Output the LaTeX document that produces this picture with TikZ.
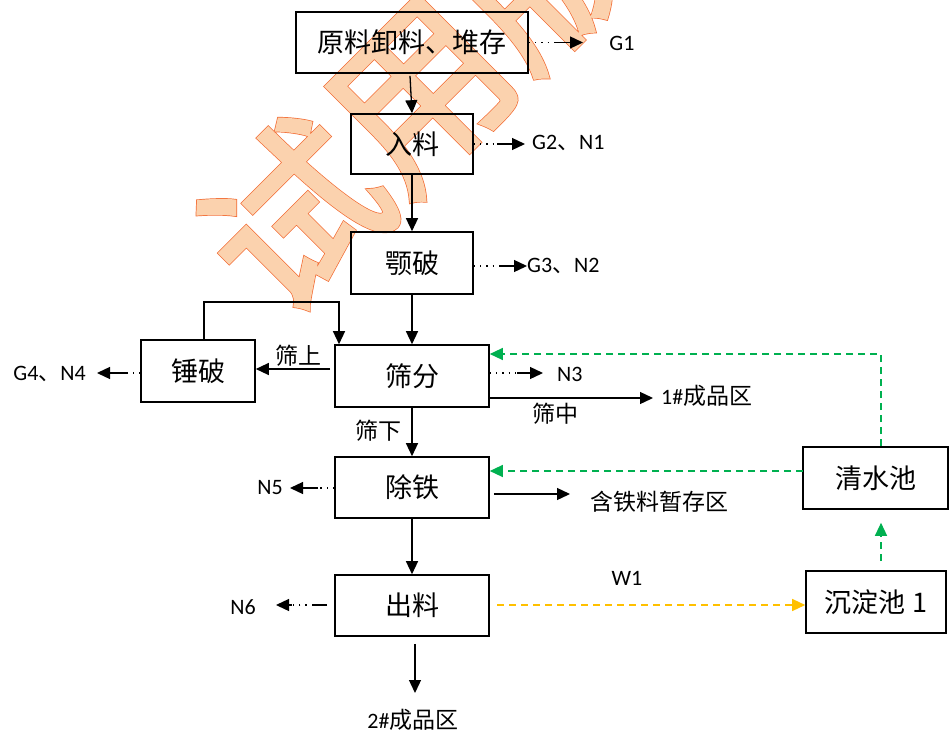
\documentclass[tikz,border=0pt]{standalone}
\usepackage{fontspec}
\setmainfont{Carlito}
\newfontfamily\cjk{Noto Sans CJK SC}
\usetikzlibrary{arrows.meta}
\definecolor{gr}{HTML}{00B050}
\definecolor{yl}{HTML}{FFC000}
\definecolor{peach}{HTML}{FBD2AE}
\newcommand{\wmouter}[1]{\special{pdf:literal direct 2 Tr 5 w 0.95 0.42 0.2 RG}#1\special{pdf:literal direct 0 Tr 0.4 w 0 0 0 RG}}
\newcommand{\wminner}[1]{\special{pdf:literal direct 2 Tr 3.6 w 0.984 0.824 0.682 RG}#1\special{pdf:literal direct 0 Tr 0.4 w 0 0 0 RG}}
\begin{document}
\begin{tikzpicture}[x=1pt,y=-1pt,
 box/.style={draw,line width=1.6pt,inner sep=0pt,font=\cjk\fontsize{27}{27}\selectfont},
 arr/.style={line width=1.3pt,-{Triangle[length=13pt,width=12pt]}},
 dotl/.style={line width=1.3pt,dash pattern=on 1.3pt off 5pt},
 lbl/.style={font=\fontsize{22}{22}\selectfont,inner sep=0pt},
 clbl/.style={font=\cjk\fontsize{23}{23}\selectfont,inner sep=0pt},
 gdash/.style={gr,line width=1.3pt,dash pattern=on 7pt off 5pt,-{Triangle[length=13pt,width=12pt]}},
 ydash/.style={yl,line width=1.3pt,dash pattern=on 7pt off 5pt,-{Triangle[length=13pt,width=12pt]}},
 wm/.style={rotate=45,font=\cjk\fontsize{175}{175}\selectfont,text=peach,inner sep=0pt},
]
\useasboundingbox (0,0) rectangle (949,733);
\begin{scope}
\clip (0,0) rectangle (949,733);
\node[wm] (wmo) at (418,92) {\wmouter{试用版}};
\node[wm] (wmi) at (418,92) {\wminner{试用版}};
\end{scope}

% boxes
\node[box,minimum width=232pt,minimum height=61pt] (b1) at (412,42.5) {原料卸料、堆存};
\node[box,minimum width=122pt,minimum height=60pt] (b2) at (412,144) {入料};
\node[box,minimum width=122pt,minimum height=62pt] (b3) at (412,263) {颚破};
\node[box,minimum width=154pt,minimum height=62pt] (b4) at (412,376) {筛分};
\node[box,minimum width=114pt,minimum height=62pt] (b5) at (198,371) {锤破};
\node[box,minimum width=154pt,minimum height=61pt] (b6) at (412,487.5) {除铁};
\node[box,minimum width=154pt,minimum height=61pt] (b7) at (412,605.5) {出料};
\node[box,minimum width=145pt,minimum height=62pt] (b8) at (875.5,478) {清水池};
\node[box,minimum width=140pt,minimum height=62pt] (b9) at (876,602) {沉淀池 1};

% labels
\node[lbl] (tg1) at (622,43) {G1};
\node[lbl,anchor=west] (tg2) at (532,143) {G2{\cjk 、}N1};
\node[lbl,anchor=west] (tg3) at (527,266) {G3{\cjk 、}N2};
\node[lbl,anchor=west] (tn3) at (557,374) {N3};
\node[lbl,anchor=west] (tc1) at (661,396) {1\#{\cjk\fontsize{23}{23}\selectfont 成品区}};
\node[clbl] (tsz) at (555,414) {筛中};
\node[clbl] (tss) at (298,356) {筛上};
\node[clbl] (tsx) at (378,431) {筛下};
\node[lbl,anchor=east] (tg4) at (86,374) {G4{\cjk 、}N4};
\node[lbl,anchor=east] (tn5) at (283,488) {N5};
\node[lbl] (tn6) at (243,607) {N6};
\node[lbl] (tw1) at (627,578) {W1};
\node[clbl,anchor=west] (tfe) at (590,502) {含铁料暂存区};
\node[lbl] (tc2) at (413,720) {2\#{\cjk\fontsize{23}{23}\selectfont 成品区}};

% main flow
\draw[arr] ([xshift=-2pt,yshift=-2pt]b1.south) -- (b2.north);
\draw[arr] (b2.south) -- (b3.north);
\draw[arr] (b3.south) -- (b4.north);
\draw[arr] (b4.south) -- (b6.north);
\draw[arr] (b6.south) -- (b7.north);
\coordinate (e2) at (415,693);
\draw[arr] (e2 |- b7.south) ++(0,7) -- (e2);

% 筛上 and loop
\coordinate (sa) at (330,369);
\draw[arr] (sa) -- (sa -| b5.east);
\coordinate (lp1) at (204,302);
\coordinate (lp2) at (339,302);
\draw[arr] (lp1 |- b5.north) -- (lp1) -- (lp2) -- (lp2 |- b4.north);

% 筛中
\coordinate (z1) at (653,398);
\draw[arr] (z1 -| b4.east) -- (z1);
% 含铁料
\coordinate (fe) at (570,494);
\draw[arr] ([xshift=4pt]fe -| b6.east) -- (fe);

% side emissions
\coordinate (g1a) at (555,42.5); \coordinate (g1b) at (583,42.5);
\draw[dotl] (b1.east) -- (g1a); \draw[arr] (g1a) -- (g1b);
\coordinate (g2a) at (497,144); \coordinate (g2b) at (525,144);
\draw[dotl] (b2.east) -- (g2a); \draw[arr] (g2a) -- (g2b);
\coordinate (g3a) at (500,266); \coordinate (g3b) at (527,266);
\draw[dotl] (g3a -| b3.east) -- (g3a); \draw[arr] (g3a) -- (g3b);
\coordinate (n3a) at (517,373); \coordinate (n3b) at (543,373);
\draw[dotl] (n3a -| b4.east) -- (n3a); \draw[arr] (n3a) -- (n3b);
\coordinate (g4a) at (128,373); \coordinate (g4b) at (97,373);
\draw[dotl] (g4a -| b5.west) -- (g4a); \draw[arr] (g4a) -- (g4b);
\coordinate (n5a) at (318,488); \coordinate (n5b) at (290,488);
\draw[dotl] (n5a -| b6.west) -- (n5a); \draw[arr] (n5a) -- (n5b);
\coordinate (n6a) at (327,605); \coordinate (n6b) at (313,605);
\coordinate (n6c) at (292,605); \coordinate (n6d) at (276,605);
\draw[line width=1.3pt] (n6a) -- (n6b);
\draw[dotl] (n6b) -- (n6c); \draw[arr] (n6c) -- (n6d);

% water
\coordinate (w1) at (497,605);
\draw[ydash] (w1) -- (w1 -| b9.west);
\coordinate (gt) at (881,354);
\draw[gdash] (gt |- b8.north) -- (gt) -- (gt -| b4.east);
\coordinate (gm) at (803,471);
\draw[gdash] (gm) -- (gm -| b6.east);
\draw[gdash] ([xshift=5pt,yshift=9pt]b9.north) -- ([xshift=5.5pt,yshift=-13pt]b8.south);
\end{tikzpicture}
\end{document}
